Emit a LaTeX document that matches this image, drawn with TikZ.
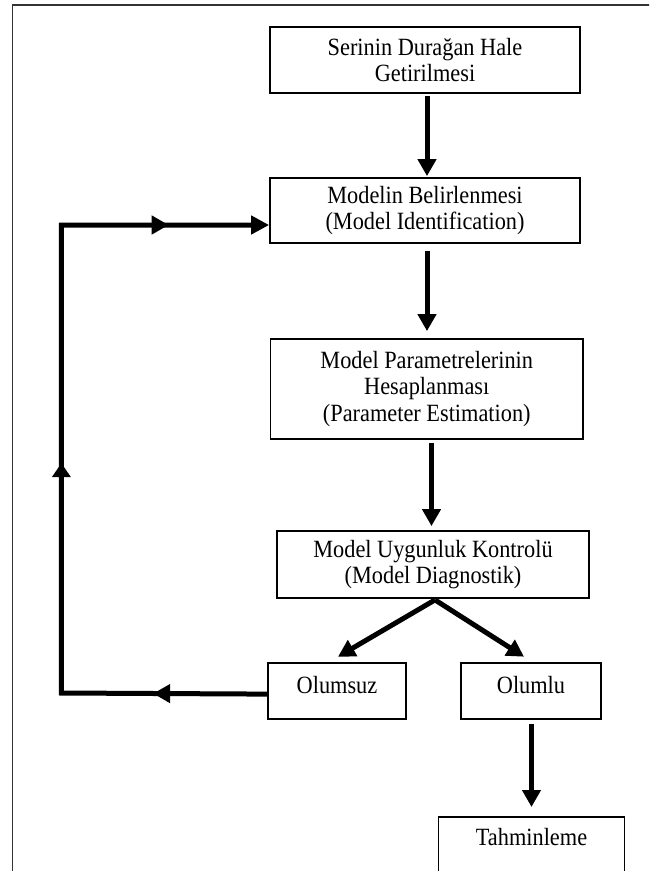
\documentclass[tikz,border=0pt]{standalone}
\usepackage{fontspec}
\setmainfont{Liberation Serif}[FakeStretch=0.9]
\usetikzlibrary{arrows.meta,decorations.markings,calc}
\begin{document}
\begin{tikzpicture}[x=1pt,y=-1pt,
  box/.style={draw, line width=1.8pt, align=center, inner sep=0pt,
    font=\fontsize{24.8}{26.6}\selectfont},
  arr/.style={line width=5pt, -{Triangle[length=17pt,width=18pt]}},
  fb/.style={line width=5pt, -{Triangle[length=18pt,width=18pt]},
    decoration={markings,
      mark=at position 114pt with {\arrow{Triangle[length=17pt,width=18pt]}},
      mark=at position 435.6pt with {\arrow{Triangle[length=14pt,width=18pt]}},
      mark=at position 781pt with {\arrow{Triangle[length=17pt,width=18pt]}}},
    postaction={decorate}},
  frame/.style={line width=1.7pt, black!80}
  ]
\useasboundingbox (0,0) rectangle (649,871);
\clip (0,0) rectangle (649,871);
\draw[frame] (12.4,900) -- (12.4,5) -- (700,5);

\node[box, minimum width=310pt, minimum height=66pt] (b1) at (425,60)
  {Serinin Durağan Hale\\Getirilmesi};
\node[box, minimum width=310pt, minimum height=65pt] (b2) at (425,210.5)
  {Modelin Belirlenmesi\\(Model Identification)};
\node[box, minimum width=312.5pt, minimum height=100pt] (b3) at (426.75,389)
  {Model Parametrelerinin\\Hesaplanması\\(Parameter Estimation)};
\node[box, minimum width=312pt, minimum height=67pt] (b4) at (433,564.5)
  {Model Uygunluk Kontrolü\\(Model Diagnostik)};
\node[box, anchor=north, minimum width=138pt, text height=30.6pt, text depth=25.4pt] (neg) at (337,661.7)
  {Olumsuz};
\node[box, anchor=north, minimum width=140pt, text height=30.6pt, text depth=25.4pt] (pos) at (531,661.7)
  {Olumlu};
\node[box, anchor=north, minimum width=186pt, text height=29pt, text depth=45pt] (fc) at (531.5,816)
  {Tahminleme};

\coordinate (fbbot) at (61.4,693);
\coordinate (fbtop) at (61.4,225);

\draw[arr] ([xshift=2pt,yshift=-2pt]b1.south) -- ([xshift=2pt,yshift=1pt]b2.north);
\draw[arr] ([xshift=2pt,yshift=-7pt]b2.south) -- ([xshift=0.25pt,yshift=7pt]b3.north);
\draw[arr] ([xshift=4.75pt,yshift=-3pt]b3.south) -- ([xshift=-1.5pt,yshift=4pt]b4.north);
\draw[arr] ([xshift=2pt,yshift=-1pt]b4.south) -- ([xshift=1pt,yshift=5pt]neg.north);
\draw[arr] ([xshift=2pt,yshift=-1pt]b4.south) -- ([xshift=-7pt,yshift=5pt]pos.north);
\draw[arr] ([xshift=0.5pt,yshift=-4pt]pos.south) -- ([yshift=9pt]fc.north);
\draw[fb] ([yshift=-3.5pt]neg.west) -- (fbbot) -- (fbtop) -- (b2.west |- fbtop);
\end{tikzpicture}
\end{document}
